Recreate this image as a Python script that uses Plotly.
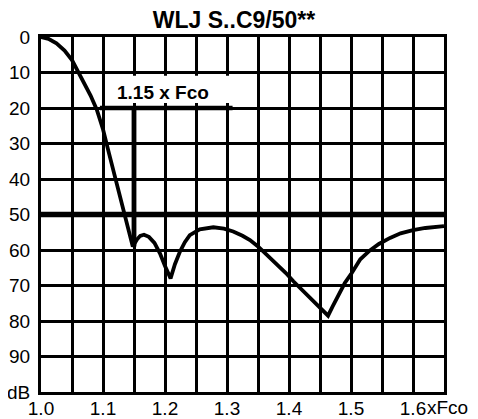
import plotly.graph_objects as go

# Frequency (x Fco) and attenuation (dB)
freq = [1.000, 1.012, 1.025, 1.038, 1.050, 1.060, 1.070, 1.080, 1.090, 1.100,
        1.110, 1.120, 1.130, 1.138, 1.143, 1.148, 1.155, 1.160, 1.166, 1.174,
        1.183, 1.192, 1.200, 1.209, 1.216, 1.224, 1.232, 1.240, 1.256, 1.278,
        1.295, 1.310, 1.325, 1.337, 1.350, 1.364, 1.380, 1.395, 1.407, 1.420,
        1.434, 1.450, 1.463, 1.470, 1.480, 1.490, 1.500, 1.515, 1.530, 1.545,
        1.563, 1.580, 1.600, 1.620, 1.650]
atten = [0.0, 0.5, 1.8, 3.8, 6.5, 9.8, 13.0, 16.5, 20.5, 26.0,
         33.0, 40.0, 47.3, 52.5, 55.6, 59.0, 57.0, 56.0, 55.7, 56.3,
         58.0, 61.0, 64.5, 68.0, 64.0, 60.5, 57.8, 55.8, 54.2, 53.6,
         54.0, 54.8, 56.0, 57.2, 59.0, 61.3, 63.8, 66.5, 68.8, 71.0,
         73.4, 76.2, 78.5, 76.0, 72.5, 69.3, 66.8, 62.6, 60.2, 58.3,
         56.6, 55.3, 54.4, 53.8, 53.3]

x_ticks = [1.0, 1.1, 1.2, 1.3, 1.4, 1.5, 1.6]
x_tick_labels = ["1.0", "1.1", "1.2", "1.3", "1.4", "1.5", "1.6"]
y_ticks = [0, 10, 20, 30, 40, 50, 60, 70, 80, 90, 100]
y_tick_labels = ["0", "10", "20", "30", "40", "50", "60", "70", "80", "90", "dB"]

title_text = "WLJ S..C9/50**"
marker_text = "1.15 x Fco"
marker_freq = 1.15
marker_level = 20
marker_null = 59.0
ref_level = 50
x_unit = "xFco"

FONT = "Liberation Sans, Arial, sans-serif"

# the page body adds an 8 px margin, so the figure is sized to fill the rest
FIG_W, FIG_H = 470, 411

fig = go.Figure()
fig.add_trace(go.Scatter(x=freq, y=atten, mode="lines",
                         line=dict(color="black", width=3.8),
                         hoverinfo="skip", showlegend=False))
# invisible trace on a second x axis that only carries the 0.05 grid
fig.add_trace(go.Scatter(x=[1.0, 1.65], y=[0, 0], xaxis="x2", mode="lines",
                         line=dict(width=0), hoverinfo="skip", showlegend=False))

# thick 50 dB reference line
fig.add_shape(type="line", xref="paper", x0=0, x1=1, yref="y",
              y0=ref_level, y1=ref_level, layer="above",
              line=dict(color="black", width=5.5))
# white box behind the marker label
fig.add_shape(type="rect", xref="x", yref="y", x0=1.106, x1=1.309,
              y0=10.9, y1=18.6, layer="above",
              fillcolor="white", line=dict(width=0))
# marker bracket
fig.add_shape(type="line", xref="x", yref="y", x0=1.095, x1=1.309,
              y0=marker_level, y1=marker_level, layer="above",
              line=dict(color="black", width=4.5))
fig.add_shape(type="line", xref="x", yref="y", x0=marker_freq, x1=marker_freq,
              y0=marker_level, y1=marker_null, layer="above",
              line=dict(color="black", width=4.8))

fig.add_annotation(x=1.196, y=15.6, xref="x", yref="y", text="<b>" + marker_text + "</b>",
                   showarrow=False, font=dict(family=FONT, size=19, color="black"))
fig.add_annotation(x=1.6, y=100, xref="x", yref="y", text=x_unit,
                   xanchor="left", yanchor="top", xshift=12, yshift=-3,
                   showarrow=False, font=dict(family=FONT, size=19, color="black"))

fig.update_layout(
    width=FIG_W, height=FIG_H,
    margin=dict(l=33, r=34, t=29, b=27, autoexpand=False),
    paper_bgcolor="white", plot_bgcolor="white",
    font=dict(family=FONT, size=19, color="black"),
    title=dict(text="<b>" + title_text + "</b>", x=226 / FIG_W, xanchor="center",
               y=1 - 12 / FIG_H, yanchor="middle",
               font=dict(family=FONT, size=23, color="black")),
    xaxis=dict(range=[1.0, 1.65], tickvals=x_ticks, ticktext=x_tick_labels,
               showgrid=True, gridcolor="black", gridwidth=3,
               showline=True, linecolor="black", linewidth=3, mirror=True,
               ticks="", zeroline=False, ticklabelstandoff=-3, fixedrange=True,
               automargin=False),
    xaxis2=dict(range=[1.0, 1.65], overlaying="x", side="top", dtick=0.05, tick0=1.0,
                showgrid=True, gridcolor="black", gridwidth=3,
                showticklabels=False, ticks="", zeroline=False, fixedrange=True,
                automargin=False),
    yaxis=dict(range=[100, 0], tickvals=y_ticks, ticktext=y_tick_labels,
               showgrid=True, gridcolor="black", gridwidth=3,
               showline=True, linecolor="black", linewidth=3, mirror=True,
               ticks="", zeroline=False, ticklabelstandoff=4, fixedrange=True,
               automargin=False),
)

fig.write_html("out.html")
